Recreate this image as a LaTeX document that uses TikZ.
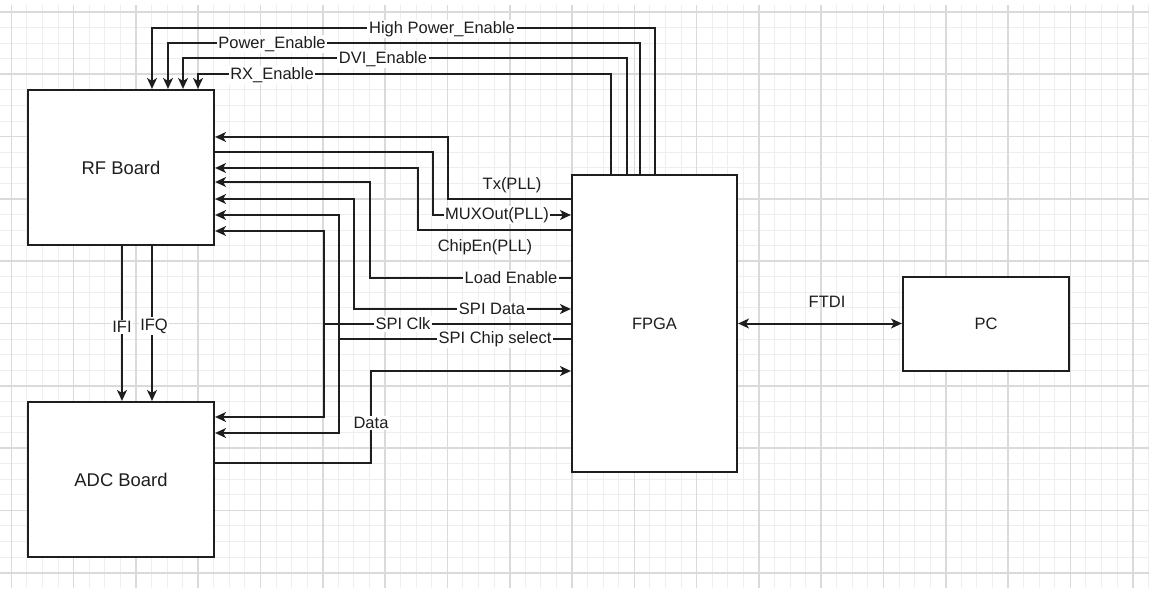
\documentclass[tikz,border=0pt]{standalone}
\usepackage{fontspec}
\setmainfont{Liberation Sans}
\usetikzlibrary{arrows.meta,calc}
\definecolor{gridmajor}{HTML}{DADADA}
\definecolor{gridminor}{HTML}{EEEEEE}
\definecolor{ink}{HTML}{1E1E1E}

\begin{document}
\begin{tikzpicture}[x=0.5pt,y=-0.5pt,>={Stealth[length=5.4pt,width=4.9pt,inset=1.4pt]},
	board/.style={draw=ink, line width=1.1pt, fill=white, text=ink, font=\fontsize{9.2}{11}\selectfont},
	sig/.style={draw=ink, line width=1pt},
	lbl/.style={fill=white, inner sep=0.8pt, text=ink, font=\fontsize{8.25}{10}\selectfont},
	freelbl/.style={inner sep=0.8pt, text=ink, font=\fontsize{8.25}{10}\selectfont}]
	\useasboundingbox (0,0) rectangle (1149,588);
	\fill[white] (0,0) rectangle (1149,588);
	% grid
	\foreach \i in {0,...,73} \draw[gridminor, line width=0.5pt] ({11.3+15.575*\i},5) -- ({11.3+15.575*\i},588);
	\foreach \j in {0,...,36} \draw[gridminor, line width=0.5pt] (0,{12+15.575*\j}) -- (1149,{12+15.575*\j});
	\foreach \i in {0,...,18} \draw[gridmajor, line width=0.8pt] ({11.3+62.3*\i},5) -- ({11.3+62.3*\i},588);
	\foreach \j in {0,...,9} \draw[gridmajor, line width=0.8pt] (0,{12+62.3*\j}) -- (1149,{12+62.3*\j});

	\node[board, minimum width=93pt, minimum height=77.5pt] (rf) at (121,167.5) {RF Board};
	\node[board, minimum width=93pt, minimum height=77.5pt] (adc) at (121,479.5) {ADC Board};
	\node[board, minimum width=82.5pt, minimum height=148.5pt, font=\fontsize{8.25}{10}\selectfont] (fpga) at (654.5,323.5) {FPGA};
	\node[board, minimum width=83pt, minimum height=47pt, font=\fontsize{8.25}{10}\selectfont] (pc) at (986,324) {PC};

	\draw[sig,->] (fpga.north -| 655,0) |- (152,28) -- (rf.north -| 152,0);
	\draw[sig,->] (fpga.north -| 640,0) |- (168,43) -- (rf.north -| 168,0);
	\draw[sig,->] (fpga.north -| 627,0) |- (183,58) -- (rf.north -| 183,0);
	\draw[sig,->] (fpga.north -| 611,0) |- (198,74) -- (rf.north -| 198,0);

	\draw[sig,->] (fpga.west |- 0,199) -| (448,137) -- (rf.east |- 0,137);
	\draw[sig,->] (rf.east |- 0,152) -| (433,215) -- (fpga.west |- 0,215);
	\draw[sig,->] (fpga.west |- 0,230) -| (418,168) -- (rf.east |- 0,168);
	\draw[sig,->] (fpga.west |- 0,278) -| (370,182) -- (rf.east |- 0,182);
	\draw[sig,<->] (rf.east |- 0,199) -| (354,309) -- (fpga.west |- 0,309);

	\coordinate (csj) at (339,339);
	\coordinate (clj) at (324,324);
	\draw[sig,->] (fpga.west |- csj) -- (csj) |- (rf.east |- 0,215);
	\draw[sig,->] (csj) |- (adc.east |- 0,433);
	\draw[sig,->] (fpga.west |- clj) -- (clj) |- (rf.east |- 0,231);
	\draw[sig,->] (clj) |- (adc.east |- 0,417);

	\draw[sig,->] (adc.east |- 0,463) -| (371,371) -- (fpga.west |- 0,371);
	\draw[sig,->] (rf.south -| 122,0) -- (adc.north -| 122,0);
	\draw[sig,->] (rf.south -| 152,0) -- (adc.north -| 152,0);
	\draw[sig,<->] (fpga.east) -- (pc.west |- fpga.east);

	\node[lbl] (hpe) at (442,29) {High Power\_Enable};
	\node[lbl] (pwe) at (272,44) {Power\_Enable};
	\node[lbl] (dvie) at (383,59) {DVI\_Enable};
	\node[lbl] (rxe) at (272,75) {RX\_Enable};
	\node[freelbl] (tx) at (512,185) {Tx(PLL)};
	\node[lbl] (mux) at (497,215) {MUXOut(PLL)};
	\node[freelbl] (chipen) at (485,247) {ChipEn(PLL)};
	\node[lbl] (load) at (511,278) {Load Enable};
	\node[lbl] (sdata) at (492,309) {SPI Data};
	\node[lbl] (sclk) at (403,324) {SPI Clk};
	\node[lbl] (scs) at (495,339) {SPI Chip select};
	\node[lbl] (data) at (371,423) {Data};
	\node[lbl] (ifi) at (122,327) {IFI};
	\node[lbl] (ifq) at (154,326) {IFQ};
	\node[freelbl] (ftdi) at (827,302) {FTDI};
\end{tikzpicture}
\end{document}
